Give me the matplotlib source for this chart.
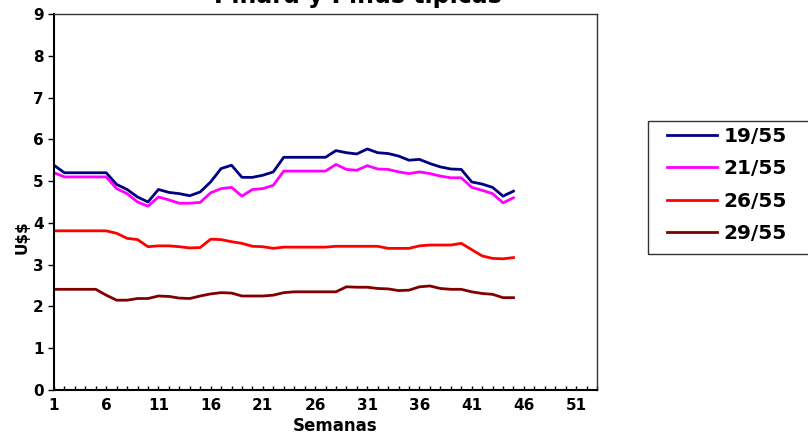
import matplotlib.pyplot as plt
from matplotlib.patches import Rectangle
from matplotlib.ticker import MultipleLocator

# weekly prices (U$$), weeks 1..45
weeks = list(range(1, 46))
p19_55 = [5.38, 5.20, 5.20, 5.20, 5.20, 5.20, 4.92, 4.80, 4.62, 4.50,
          4.80, 4.73, 4.70, 4.65, 4.74, 4.98, 5.30, 5.38, 5.09, 5.09,
          5.14, 5.22, 5.57, 5.57, 5.57, 5.57, 5.57, 5.73, 5.68, 5.65,
          5.77, 5.68, 5.66, 5.60, 5.50, 5.52, 5.42, 5.34, 5.29, 5.28,
          4.98, 4.93, 4.85, 4.64, 4.76]
p21_55 = [5.20, 5.10, 5.10, 5.10, 5.10, 5.10, 4.82, 4.70, 4.50, 4.40,
          4.62, 4.55, 4.47, 4.47, 4.49, 4.72, 4.82, 4.85, 4.64, 4.80,
          4.82, 4.90, 5.24, 5.24, 5.24, 5.24, 5.24, 5.40, 5.28, 5.26,
          5.37, 5.29, 5.28, 5.22, 5.18, 5.22, 5.18, 5.12, 5.08, 5.08,
          4.85, 4.78, 4.70, 4.48, 4.60]
p26_55 = [3.81, 3.81, 3.81, 3.81, 3.81, 3.81, 3.75, 3.63, 3.60, 3.43,
          3.45, 3.45, 3.43, 3.40, 3.41, 3.61, 3.60, 3.55, 3.51, 3.44,
          3.43, 3.39, 3.42, 3.42, 3.42, 3.42, 3.42, 3.44, 3.44, 3.44,
          3.44, 3.44, 3.39, 3.39, 3.39, 3.45, 3.47, 3.47, 3.47, 3.51,
          3.36, 3.21, 3.15, 3.14, 3.17]
p29_55 = [2.41, 2.41, 2.41, 2.41, 2.41, 2.27, 2.15, 2.15, 2.19, 2.19,
          2.25, 2.24, 2.20, 2.19, 2.25, 2.30, 2.33, 2.32, 2.25, 2.25,
          2.25, 2.27, 2.33, 2.35, 2.35, 2.35, 2.35, 2.35, 2.47, 2.46,
          2.46, 2.43, 2.42, 2.38, 2.39, 2.47, 2.49, 2.43, 2.41, 2.41,
          2.35, 2.31, 2.29, 2.21, 2.21]

series = [('19/55', p19_55, '#000080'),
          ('21/55', p21_55, '#FF00FF'),
          ('26/55', p26_55, '#FF0000'),
          ('29/55', p29_55, '#800000')]

W, H = 808, 434
fig = plt.figure(figsize=(W / 100, H / 100), dpi=100)
ax = fig.add_axes([54 / W, 1 - 390 / H, (597 - 54) / W, (390 - 14) / H])

for name, vals, col in series:
    ax.plot(weeks, vals, color=col, lw=2.0, label=name)

ax.set_xlim(1, 53)
ax.set_ylim(0, 9)
ax.set_yticks(range(0, 10))
ax.set_xticks(range(1, 52, 5))
ax.xaxis.set_minor_locator(MultipleLocator(1))
ax.tick_params(axis='x', which='both', direction='in', length=3, width=1,
               pad=6, labelsize=11)
ax.tick_params(axis='y', direction='out', length=4, width=1, labelsize=11)
for lab in ax.get_xticklabels() + ax.get_yticklabels():
    lab.set_fontweight('bold')

for s in ['left', 'bottom']:
    ax.spines[s].set_linewidth(1.5)
    ax.spines[s].set_color('black')
for s in ['top', 'right']:
    ax.spines[s].set_linewidth(1.0)
    ax.spines[s].set_color('#333333')

fig.text(335 / W, 1 - 426 / H, 'Semanas', ha='center', va='center',
         fontsize=12, fontweight='bold')
fig.text(22 / W, 1 - 237 / H, 'U$$', ha='center', va='center',
         rotation=90, fontsize=11, fontweight='bold', parse_math=False)
# title is cut off at the top of the picture, as in the source image
fig.text(358 / W, 1 - 3 / H, 'Pinara y Pinus tipicas', ha='center',
         va='baseline', fontsize=17, fontweight='bold')

# legend box runs past the right edge of the picture
fig.patches.append(Rectangle((648 / W, 1 - 254 / H), 200 / W, 133 / H,
                             transform=fig.transFigure, fill=False,
                             edgecolor='#333333', lw=1.0))
fig.legend(loc='upper left', bbox_to_anchor=(667 / W, 1 - 127 / H),
           borderaxespad=0, borderpad=0, frameon=False,
           prop={'weight': 'bold', 'size': 14.5},
           handlelength=2.5, handletextpad=0.3, labelspacing=0.66)

fig.savefig('out.png', dpi=100)
